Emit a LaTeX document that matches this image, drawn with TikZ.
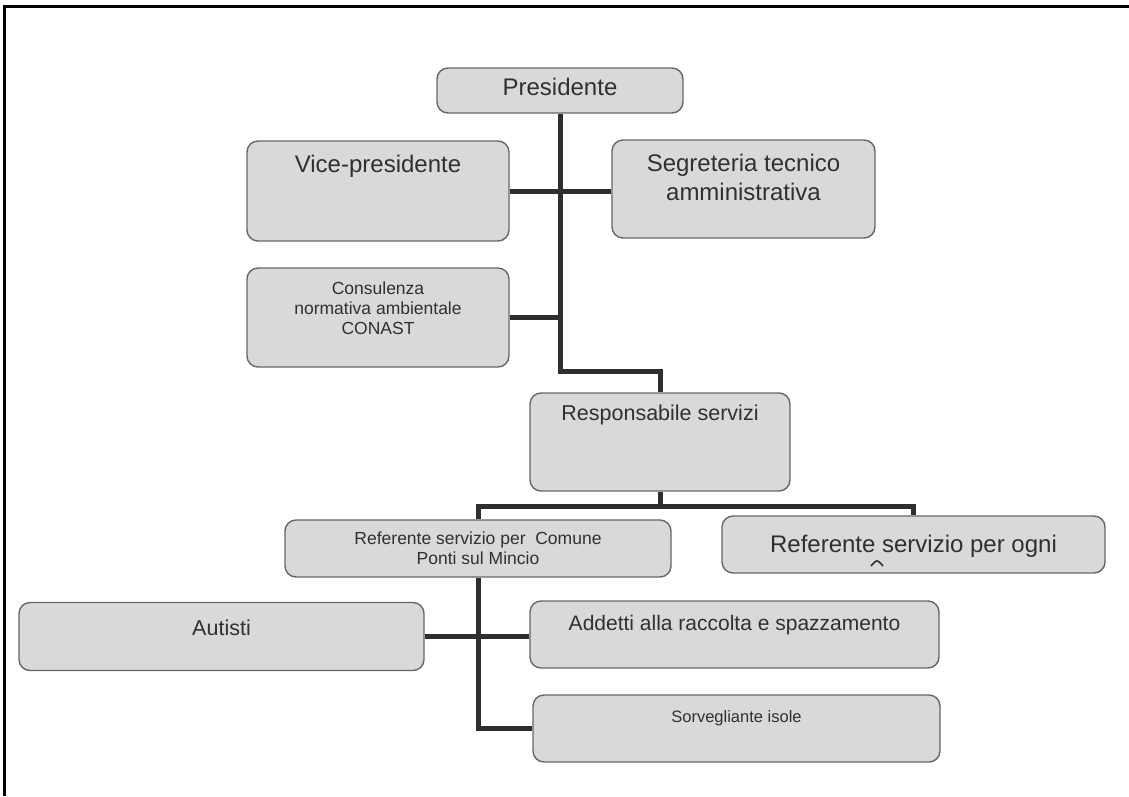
\documentclass[tikz,border=0pt]{standalone}
\usepackage{fontspec}
\setmainfont{Liberation Sans}
\usetikzlibrary{positioning}

\definecolor{boxfill}{HTML}{D9D9D9}
\definecolor{boxline}{HTML}{666666}
\definecolor{linkcol}{HTML}{2E2E2E}
\definecolor{txtcol}{HTML}{303030}

\begin{document}
\begin{tikzpicture}[x=1pt,y=-1pt,
  box/.style={draw=boxline,fill=boxfill,line width=1.4pt,rounded corners=11pt,inner sep=0pt},
  lbl/.style={text=txtcol,align=center,inner sep=0pt},
  big/.style={lbl,font=\fontsize{24}{29}\selectfont},
  mid/.style={lbl,font=\fontsize{21.5}{26}\selectfont},
  small/.style={lbl,font=\fontsize{17.5}{20}\selectfont},
  link/.style={draw=linkcol,line width=5pt}]
  \useasboundingbox (0,0) rectangle (1129,796);
  % page frame
  \draw[line width=3pt] (4,796) -- (4,6) -- (1129,6);

  % boxes
  \node[box,minimum width=246pt,minimum height=45pt]  (pres) at (560,90.5)  {};
  \node[box,minimum width=262pt,minimum height=100pt] (vice) at (378,191)   {};
  \node[box,minimum width=263pt,minimum height=98pt]  (segr) at (743.5,189) {};
  \node[box,minimum width=262pt,minimum height=99pt]  (cons) at (378,317.5) {};
  \node[box,minimum width=260pt,minimum height=98pt]  (resp) at (660,442)   {};
  \node[box,minimum width=386pt,minimum height=57pt]  (refc) at (478,548.5) {};
  \node[box,minimum width=383pt,minimum height=57pt]  (refo) at (913.5,544.5) {};
  \node[box,minimum width=405pt,minimum height=68pt]  (aut)  at (221.5,636.5) {};
  \node[box,minimum width=409pt,minimum height=67pt]  (add)  at (734.5,634.5) {};
  \node[box,minimum width=407pt,minimum height=67pt]  (sorv) at (736.5,728.5) {};

  % texts
  \node[big,anchor=base]   (prestxt) at (560,95.5)  {Presidente};
  \node[big,anchor=base]   (vicetxt) at (378,172.5) {Vice-presidente};
  \node[big]               (segrtxt) at (743.5,177.5) {Segreteria tecnico\\amministrativa};
  \node[small]             (constxt) at (378,308)   {Consulenza\\normativa ambientale\\CONAST};
  \node[mid,anchor=base]   (resptxt) at (660,420.5) {Responsabile servizi};
  \node[small]             (refctxt) at (478,548)   {Referente servizio per~~Comune\\Ponti sul Mincio};
  \node[big,anchor=base]   (refotxt) at (913.5,552) {Referente servizio per ogni};
  \node[mid,anchor=base]   (auttxt)  at (221.5,635) {Autisti};
  \node[lbl,font=\fontsize{21}{25}\selectfont,anchor=base] (addtxt) at (734.5,630.5) {Addetti alla raccolta e spazzamento};
  \node[lbl,font=\fontsize{16.5}{20}\selectfont,anchor=base] (sorvtxt) at (736.5,722) {Sorvegliante isole};
  \draw[txtcol,line width=1.6pt] (871,566) .. controls (877,559) .. (883,566);

  % connectors
  \draw[link] (pres.south) -- ++(0,258) -| (resp.north);
  \draw[link] (vice.east) -- (vice.east -| segr.west);
  \draw[link] (cons.east) -- (cons.east -| pres.south);
  \draw[link] (resp.south) -- ++(0,15) -| (refc.north);
  \draw[link] (resp.south) -- ++(0,15) -| (refo.north);
  \draw[link] (refc.south) |- (sorv.west);
  \draw[link] (aut.east) -- (aut.east -| add.west);
\end{tikzpicture}
\end{document}
